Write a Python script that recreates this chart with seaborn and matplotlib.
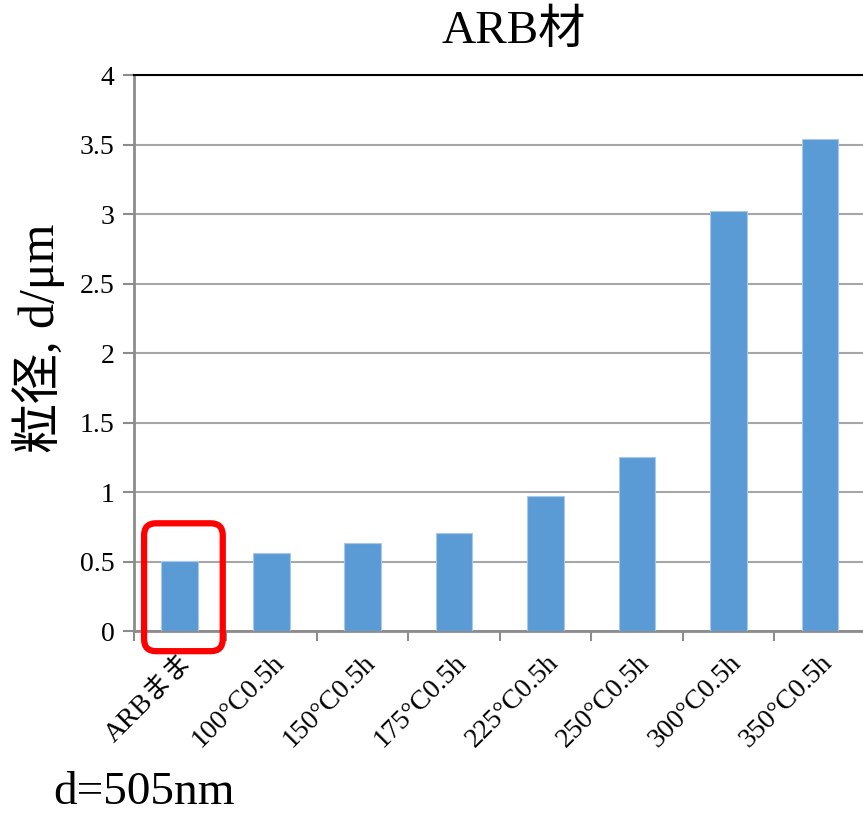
import matplotlib
matplotlib.use("Agg")
import matplotlib.pyplot as plt
import seaborn as sns
import pandas as pd
from matplotlib.patches import FancyBboxPatch

categories = ["ARBまま", "100°C0.5h", "150°C0.5h", "175°C0.5h",
              "225°C0.5h", "250°C0.5h", "300°C0.5h", "350°C0.5h"]
values = [0.505, 0.562, 0.632, 0.707, 0.975, 1.253, 3.02, 3.54]
yticks = [0, 0.5, 1, 1.5, 2, 2.5, 3, 3.5, 4]
ytick_labels = ["0", "0.5", "1", "1.5", "2", "2.5", "3", "3.5", "4"]

sns.set_theme(style="white")
FAM = ["Liberation Serif", "Noto Sans CJK JP", "DejaVu Sans"]
plt.rcParams["font.family"] = FAM
plt.rcParams["text.color"] = "black"
plt.rcParams["axes.labelcolor"] = "black"
plt.rcParams["xtick.labelcolor"] = "black"
plt.rcParams["ytick.labelcolor"] = "black"

fig = plt.figure(figsize=(8.63, 8.16), dpi=100)
ax = fig.add_axes([0.1553, 0.2267, 0.848, 0.6813])

df = pd.DataFrame({"cat": categories, "val": values})
sns.barplot(data=df, x="cat", y="val", color="#5B9BD5", saturation=1,
            width=0.4, edgecolor="#a9c8ea", linewidth=0.8, ax=ax, zorder=3)

ax.set_xlim(-0.5, len(categories) - 0.5)
ax.set_ylim(0, 4)
ax.set_yticks(yticks)
ax.set_yticklabels(ytick_labels, fontsize=20, color="black")
ax.yaxis.grid(True, color="#a6a6a6", linewidth=1.5, zorder=0)
ax.set_axisbelow(True)

ax.set_xticks(range(len(categories)))
ax.set_xticklabels(categories, rotation=45, ha="right", rotation_mode="anchor",
                   fontsize=20, color="black")
ax.tick_params(axis="x", which="major", length=0, pad=14)
ax.set_xticks([i - 0.5 for i in range(len(categories) + 1)], minor=True)
ax.tick_params(axis="x", which="minor", length=7, width=1.5, color="#8c8c8c",
               direction="out", bottom=True)
ax.tick_params(axis="y", length=8, width=1.5, color="#8c8c8c", direction="out",
               left=True, pad=6)

for s in ["left", "bottom"]:
    ax.spines[s].set_color("#8c8c8c")
    ax.spines[s].set_linewidth(2)
ax.spines["top"].set_visible(True)
ax.spines["top"].set_color("black")
ax.spines["top"].set_linewidth(1.5)
ax.spines["right"].set_visible(False)

ax.set_xlabel("")
ax.set_ylabel("粒径, d/μm", fontsize=36, color="black", va="bottom")
ax.yaxis.set_label_coords(-0.094, 0.527)

fig.text(0.5956, 1 - 43 / 816, "ARB材", fontsize=34, ha="center",
         va="baseline", color="black")

# red rounded highlight box around first bar (data coords -> pixels)
fig.canvas.draw()
x0, y0 = ax.transData.transform((-0.39, -0.145))
x1, y1 = ax.transData.transform((0.47, 0.775))
box = FancyBboxPatch((x0, y0), x1 - x0, y1 - y0,
                     boxstyle="round,pad=0,rounding_size=12",
                     transform=None, fill=False, edgecolor="#ff0000",
                     linewidth=4.5, clip_on=False, zorder=5)
fig.patches.append(box)

fig.text(53 / 863, 1 - 804 / 816, "d=505nm", fontsize=34, ha="left",
         va="baseline", color="black")

fig.savefig("out.png", dpi=100)
